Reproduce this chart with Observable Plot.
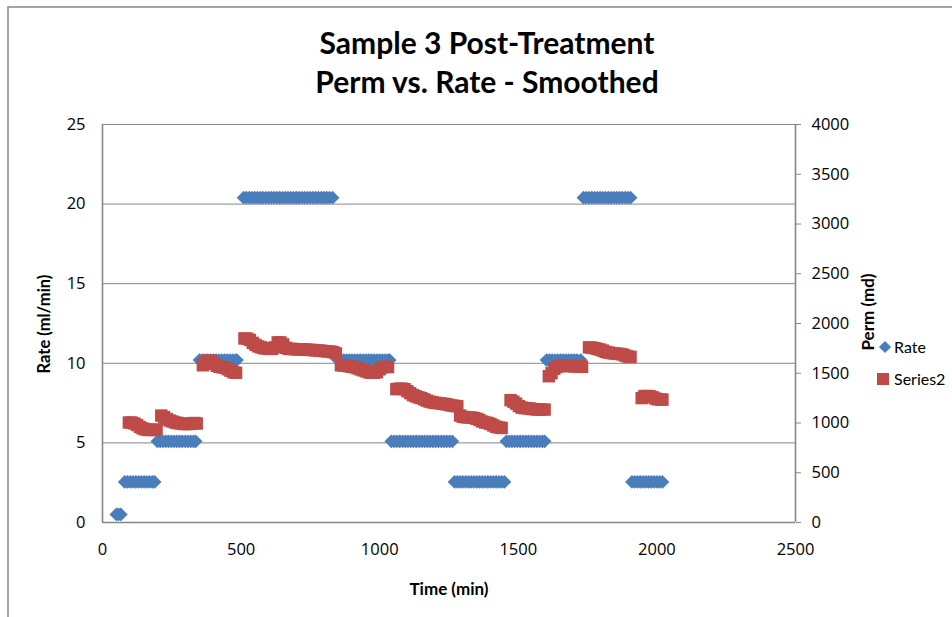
<!DOCTYPE html>
<html>
<head>
<meta charset="utf-8">
<script src="https://cdn.jsdelivr.net/npm/d3@7"></script>
<script src="https://cdn.jsdelivr.net/npm/@observablehq/plot@0.6"></script>
<style>
  html, body { margin: 0; padding: 0; background: #fff; }
  #chart svg { display: block; overflow: visible; }
</style>
</head>
<body>
<div id="chart"></div>
<script>
// ---- Tick labels ----
const xTicks = [0, 500, 1000, 1500, 2000, 2500];
const rateTicks = [0, 5, 10, 15, 20, 25];
const permTicks = [0, 500, 1000, 1500, 2000, 2500, 3000, 3500, 4000];

// ---- Rate series (ml/min): one level per pumping stage and the times logged at that level ----
const rateLevels = [0.51, 2.55, 5.1, 10.2, 20.4, 10.2, 5.1, 2.55, 5.1, 10.2, 20.4, 2.55];
const rateTimes = [
  [50, 58, 66],
  [80, 90, 100, 110, 120, 130, 140, 150, 160, 170, 180, 188],
  [198, 208, 218, 228, 238, 248, 258, 268, 278, 288, 298, 308, 318, 328, 336],
  [350, 360, 370, 380, 390, 400, 410, 420, 430, 440, 450, 460, 470, 480, 485],
  [509, 519, 529, 539, 549, 559, 569, 579, 589, 599, 609, 619, 629, 639, 649, 659, 669, 679, 689, 699, 709, 719, 729, 739, 749, 759, 769, 779, 789, 799, 809, 819, 830],
  [850, 860, 870, 880, 890, 900, 910, 920, 930, 940, 950, 960, 970, 980, 990, 1000, 1010, 1020, 1030, 1036],
  [1042, 1052, 1062, 1072, 1082, 1092, 1102, 1112, 1122, 1132, 1142, 1152, 1162, 1172, 1182, 1192, 1202, 1212, 1222, 1232, 1242, 1252, 1262],
  [1270, 1280, 1290, 1300, 1310, 1320, 1330, 1340, 1350, 1360, 1370, 1380, 1390, 1400, 1410, 1420, 1430, 1440, 1450],
  [1457, 1467, 1477, 1487, 1497, 1507, 1517, 1527, 1537, 1547, 1557, 1567, 1577, 1587, 1595],
  [1602, 1612, 1622, 1632, 1642, 1652, 1662, 1672, 1682, 1692, 1702, 1712, 1725],
  [1735, 1745, 1755, 1765, 1775, 1785, 1795, 1805, 1815, 1825, 1835, 1845, 1855, 1865, 1875, 1885, 1895, 1905],
  [1910, 1920, 1930, 1940, 1950, 1960, 1970, 1980, 1990, 2000, 2010, 2020]
];

// ---- Perm series (md) ----
const permTime = [
  95, 105, 115, 125, 135, 145, 155, 165, 175, 185, 195,
  212, 222, 232, 242, 252, 262, 272, 282, 292, 302, 312, 322, 332, 340,
  362, 372, 382, 392, 402, 412, 422, 432, 442, 452, 462, 472, 482,
  512, 522, 532, 542, 552, 562, 572, 582, 592, 602, 612, 622, 632, 642, 652, 662, 672, 682, 692, 702, 712, 722, 732, 742, 752, 762, 772, 782, 792, 802, 812, 822, 832, 842,
  860, 870, 880, 890, 900, 910, 920, 930, 940, 950, 960, 970, 980, 990, 1000, 1010, 1020, 1030,
  1060, 1070, 1080, 1090, 1100, 1110, 1120, 1130, 1140, 1150, 1160, 1170, 1180, 1190, 1200, 1210, 1220, 1230, 1240, 1250, 1260, 1270, 1280,
  1290, 1300, 1310, 1320, 1330, 1340, 1350, 1360, 1370, 1380, 1390, 1400, 1410, 1420, 1430, 1440,
  1472, 1482, 1492, 1502, 1512, 1522, 1532, 1542, 1552, 1562, 1572, 1582, 1595,
  1610, 1620, 1630, 1640, 1650, 1660, 1670, 1680, 1690, 1700, 1710, 1720, 1730,
  1755, 1765, 1775, 1785, 1795, 1805, 1815, 1825, 1835, 1845, 1855, 1865, 1875, 1885, 1895, 1905,
  1945, 1955, 1965, 1975, 1985, 1995, 2005, 2015, 2020
];
const permValue = [
  1005, 1005, 995, 980, 960, 945, 935, 930, 930, 930, 935,
  1075, 1060, 1040, 1025, 1015, 1005, 1000, 995, 990, 990, 990, 995, 1000, 995,
  1580, 1610, 1628, 1622, 1595, 1575, 1565, 1560, 1555, 1540, 1525, 1510, 1505,
  1850, 1848, 1835, 1805, 1785, 1770, 1760, 1752, 1748, 1745, 1745, 1760, 1810, 1810, 1790, 1755, 1745, 1745, 1742, 1740, 1740, 1740, 1738, 1735, 1735, 1732, 1730, 1728, 1725, 1722, 1720, 1718, 1712, 1700,
  1580, 1578, 1575, 1570, 1565, 1560, 1550, 1540, 1530, 1520, 1510, 1505, 1505, 1510, 1540, 1560, 1565, 1562,
  1340, 1345, 1345, 1340, 1320, 1300, 1280, 1268, 1258, 1250, 1238, 1225, 1215, 1208, 1203, 1200, 1197, 1193, 1188, 1182, 1176, 1172, 1168,
  1075, 1062, 1058, 1056, 1055, 1050, 1042, 1030, 1015, 1005, 1000, 990, 975, 962, 955, 950,
  1230, 1215, 1195, 1170, 1155, 1150, 1148, 1145, 1140, 1138, 1136, 1135, 1135,
  1470, 1500, 1545, 1565, 1572, 1575, 1575, 1573, 1572, 1570, 1570, 1568, 1565,
  1760, 1758, 1752, 1745, 1738, 1728, 1715, 1708, 1703, 1700, 1697, 1694, 1690, 1678, 1668, 1665,
  1250, 1270, 1272, 1268, 1258, 1245, 1238, 1235, 1235
];

// ---- Labels ----
const titleLines = ["Sample 3 Post-Treatment", "Perm vs. Rate - Smoothed"];
const xLabel = "Time (min)";
const yLabel = "Rate (ml/min)";
const y2Label = "Perm (md)";
const seriesNames = ["Rate", "Series2"];
const colors = ["#4A7EBB", "#BE4B48"];

// ---- Build tables ----
const rateData = rateLevels.flatMap((lv, i) => rateTimes[i].map(t => ({time: t, rate: lv})));
const permData = permTime.map((t, i) => ({time: t, perm: permValue[i]}));
const permMax = 4000, rateMax = 25, k = permMax / rateMax; // secondary axis mapping

const font = "Lato, 'Open Sans', sans-serif";
const tickFontFamily = "'Open Sans', Lato, sans-serif";
const tickFontSize = 16.5;
const grey = "#868686";

const chart = Plot.plot({
  width: 952,
  height: 617,
  marginLeft: 102,
  marginRight: 157,
  marginTop: 124,
  marginBottom: 95,
  style: {fontFamily: tickFontFamily, fontSize: "16px", color: "#000", background: "#fff"},
  x: {domain: [0, 2500]},
  y: {domain: [0, 25]},
  marks: [
    Plot.gridY(rateTicks.filter(d => d > 0), {stroke: grey, strokeOpacity: 1, strokeWidth: 1}),
    // explicit (empty) x axis so no implicit axis is added
    Plot.axisX({ticks: [], label: null, tickSize: 0}),
    // right-hand tick marks of the secondary (perm) axis, labels drawn below
    Plot.axisY({anchor: "right", ticks: permTicks.map(v => v / k), tickSize: 5, stroke: grey,
      label: null, tickFormat: () => ""}),
    // tick labels as text marks placed by the scales
    Plot.text(xTicks, {x: d => d, frameAnchor: "bottom", dy: 32, text: d => String(d),
      fontSize: tickFontSize, fontFamily: tickFontFamily, fill: "#000"}),
    Plot.text(rateTicks, {y: d => d, frameAnchor: "left", dx: -17, textAnchor: "end", text: d => String(d),
      fontSize: tickFontSize, fontFamily: tickFontFamily, fill: "#000"}),
    Plot.text(permTicks, {y: d => d / k, frameAnchor: "right", dx: 16, textAnchor: "start", text: d => String(d),
      fontSize: tickFontSize, fontFamily: tickFontFamily, fill: "#000"}),
    Plot.ruleX([0, 2500], {stroke: grey, strokeWidth: 1.6}),
    Plot.ruleY([0], {stroke: grey, strokeWidth: 1.6}),
    Plot.dot(rateData, {x: "time", y: "rate", symbol: "diamond2", r: 6.2, fill: colors[0], stroke: "none"}),
    Plot.dot(permData, {x: "time", y: d => d.perm / k, symbol: "square", r: 7, fill: colors[1], stroke: "none"})
  ]
});

const svg = d3.select(chart);

// Outer chart border (top and left visible)
svg.insert("path", ":first-child")
  .attr("d", "M8,617 L8,7 L952,7")
  .attr("fill", "none").attr("stroke", grey).attr("stroke-width", 1.5);

const title = svg.append("text")
  .attr("text-anchor", "middle").attr("font-family", font).attr("font-weight", "bold")
  .attr("font-size", 30).attr("fill", "#000");
titleLines.forEach((t, i) => title.append("tspan").attr("x", 487).attr("y", 54 + i * 39).text(t));

svg.append("text").attr("x", 449).attr("y", 595).attr("text-anchor", "middle")
  .attr("font-family", font).attr("font-weight", "bold").attr("font-size", 17).text(xLabel);
svg.append("text").attr("transform", "translate(50,324) rotate(-90)").attr("text-anchor", "middle")
  .attr("font-family", font).attr("font-weight", "bold").attr("font-size", 16.5).text(yLabel);
svg.append("text").attr("transform", "translate(874,312) rotate(-90)").attr("text-anchor", "middle")
  .attr("font-family", font).attr("font-weight", "bold").attr("font-size", 17).text(y2Label);

// Legend
const lg = svg.append("g").attr("font-family", font).attr("font-size", 16).attr("text-anchor", "start");
lg.append("path").attr("d", d3.symbol(d3.symbolDiamond2, 95)()).attr("transform", "translate(885,347)").attr("fill", colors[0]);
lg.append("text").attr("x", 894).attr("y", 353).text(seriesNames[0]);
lg.append("rect").attr("x", 877).attr("y", 373).attr("width", 12).attr("height", 12).attr("fill", colors[1]);
lg.append("text").attr("x", 894).attr("y", 385).text(seriesNames[1]);

document.getElementById("chart").appendChild(chart);
</script>
</body>
</html>
